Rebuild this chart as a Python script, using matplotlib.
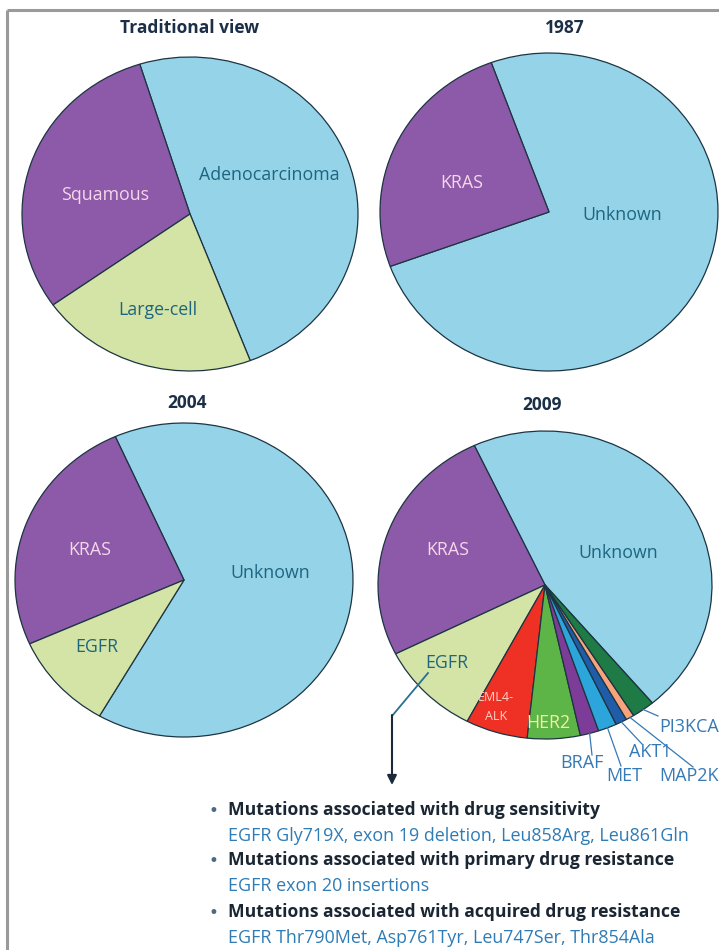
import matplotlib
matplotlib.use('Agg')
import matplotlib.pyplot as plt
import numpy as np

W, H, DPI = 719, 950, 100
plt.rcParams['font.family'] = ['Open Sans', 'DejaVu Sans']

# ---------------- data ----------------
trad_labels = ['Adenocarcinoma', 'Squamous', 'Large-cell']
trad_values = [49, 30, 21]

y1987_labels = ['Unknown', 'KRAS']
y1987_values = [75, 25]

y2004_labels = ['Unknown', 'KRAS', 'EGFR']
y2004_values = [65, 25, 10]

y2009_labels = ['Unknown', 'KRAS', 'EGFR', 'EML4-ALK', 'HER2',
                'BRAF', 'MET', 'AKT1', 'MAP2K', 'PI3KCA']
y2009_values = [45.8, 25.4, 9.9, 6.0, 5.1, 1.8, 1.8, 1.1, 0.8, 2.2]

titles = ['Traditional view', '1987', '2004', '2009']

bullet_heads = ['Mutations associated with drug sensitivity',
                'Mutations associated with primary drug resistance',
                'Mutations associated with acquired drug resistance']
bullet_items = ['EGFR Gly719X, exon 19 deletion, Leu858Arg, Leu861Gln',
                'EGFR exon 20 insertions',
                'EGFR Thr790Met, Asp761Tyr, Leu747Ser, Thr854Ala']

# ---------------- colours ----------------
LBLUE = '#95d3e8'
PURPLE = '#8c5aa8'
LGREEN = '#d3e4a6'
EDGE = '#1d3442'
col_trad = [LBLUE, PURPLE, LGREEN]
col_1987 = [LBLUE, PURPLE]
col_2004 = [LBLUE, PURPLE, LGREEN]
col_2009 = [LBLUE, PURPLE, LGREEN, '#ee3124', '#5db548',
            '#7d3c98', '#2ca5db', '#1f5da8', '#f7a47c', '#1e7b46']

TEAL = '#1e6580'
PINK = '#f6d6ea'
TITLE = '#1b2f47'
SMALLBLUE = '#3579b5'

fig = plt.figure(figsize=(W / DPI, H / DPI), dpi=DPI)
fig.patch.set_facecolor('white')


def pie_axes(cx, cy, rx, ry, values, colors, start):
    ax = fig.add_axes([(cx - rx) / W, 1 - (cy + ry) / H, 2 * rx / W, 2 * ry / H])
    wedges, _ = ax.pie(values, colors=colors, startangle=start, counterclock=True,
                       radius=1.0,
                       wedgeprops=dict(edgecolor=EDGE, linewidth=0.9))
    for w in wedges:
        w.set_clip_on(False)
    ax.set_xlim(-1, 1)
    ax.set_ylim(-1, 1)
    ax.set_aspect('auto')
    ax.axis('off')
    return wedges


P1 = (190, 214, 168, 157)
P2 = (549, 212, 169, 159)
P3 = (184, 580, 169, 157)
P4 = (545, 585, 167, 154)

pie_axes(*P1, trad_values, col_trad, -69)
pie_axes(*P2, y1987_values, col_1987, 200)
pie_axes(*P3, y2004_values, col_2004, 240)
w2009 = pie_axes(*P4, y2009_values, col_2009, 310)

# overlay in pixel coordinates
ov = fig.add_axes([0, 0, 1, 1], zorder=10)
ov.set_xlim(0, W)
ov.set_ylim(H, 0)
ov.axis('off')

# frame lines (top and left)
ov.plot([7, 7], [10, H], color='#9a9a9a', lw=2.2, solid_capstyle='butt')
ov.plot([7, W], [10, 10], color='#9a9a9a', lw=2.2, solid_capstyle='butt')

# titles
for t, (x, y) in zip(titles, [(190, 28), (565, 28), (187, 403), (542, 405)]):
    ov.text(x, y, t, ha='center', va='center', fontsize=12.5, fontweight='bold', color=TITLE)

# pie labels
LFS = 12.8
ov.text(269, 175, trad_labels[0], ha='center', va='center', fontsize=LFS, color=TEAL)
ov.text(105, 195, trad_labels[1], ha='center', va='center', fontsize=LFS, color=PINK)
ov.text(158, 310, trad_labels[2], ha='center', va='center', fontsize=LFS, color=TEAL)

ov.text(622, 215, y1987_labels[0], ha='center', va='center', fontsize=LFS, color=TEAL)
ov.text(462, 183, y1987_labels[1], ha='center', va='center', fontsize=LFS, color=PINK)

ov.text(270, 573, y2004_labels[0], ha='center', va='center', fontsize=LFS, color=TEAL)
ov.text(90, 550, y2004_labels[1], ha='center', va='center', fontsize=LFS, color=PINK)
ov.text(97, 647, y2004_labels[2], ha='center', va='center', fontsize=LFS, color=TEAL)

ov.text(618, 553, y2009_labels[0], ha='center', va='center', fontsize=LFS, color=TEAL)
ov.text(448, 550, y2009_labels[1], ha='center', va='center', fontsize=LFS, color=PINK)
ov.text(447, 663, y2009_labels[2], ha='center', va='center', fontsize=LFS, color=TEAL)
ov.text(496, 707, 'EML4-\nALK', ha='center', va='center', fontsize=9, color='#ffd2c8',
        linespacing=1.6)
ov.text(548, 723, y2009_labels[4], ha='center', va='center', fontsize=LFS, color='#f8f0a0')

# small-slice labels with leader lines computed from wedge angles
cx, cy, rx, ry = P4
SFS = 13
small_pos = {
    'BRAF': ((592, 755), (582, 763), 'center'),
    'MET': ((621, 766), (624, 776), 'center'),
    'AKT1': ((642, 744), (650, 752), 'center'),
    'MAP2K': ((693, 767), (659, 776), 'left'),
    'PI3KCA': ((658, 716), (659, 727), 'left'),
}
for w, lab in zip(w2009, y2009_labels):
    if lab in small_pos:
        (ex, ey), (tx, ty), ha = small_pos[lab]
        th = np.deg2rad((w.theta1 + w.theta2) / 2)
        sx = cx + rx * np.cos(th)
        sy = cy - ry * np.sin(th)
        ov.plot([sx, ex], [sy, ey], color=SMALLBLUE, lw=0.9)
        ov.text(tx, ty, lab, ha=ha, va='center', fontsize=SFS, color=SMALLBLUE)

# EGFR arrow
ov.plot([428, 392], [673, 716], color='#2a6f95', lw=1.3)
ov.annotate('', xy=(392, 785), xytext=(392, 715),
            arrowprops=dict(arrowstyle='-|>', color='#1a2a3a', lw=1.5,
                            mutation_scale=14, shrinkA=0, shrinkB=0))

# bullet list
ys = [810, 860, 912]
for y, head, item in zip(ys, bullet_heads, bullet_items):
    ov.text(213, y + 1, '•', ha='center', va='center', fontsize=12,
            family='DejaVu Sans', color='#4a6a85')
    ov.text(228, y, head, ha='left', va='center', fontsize=12.6, fontweight='bold', color='#1b2633')
    ov.text(228, y + 26, item, ha='left', va='center', fontsize=12.9, color='#2e7bb5')

fig.savefig('out.png', dpi=DPI, facecolor='white')
